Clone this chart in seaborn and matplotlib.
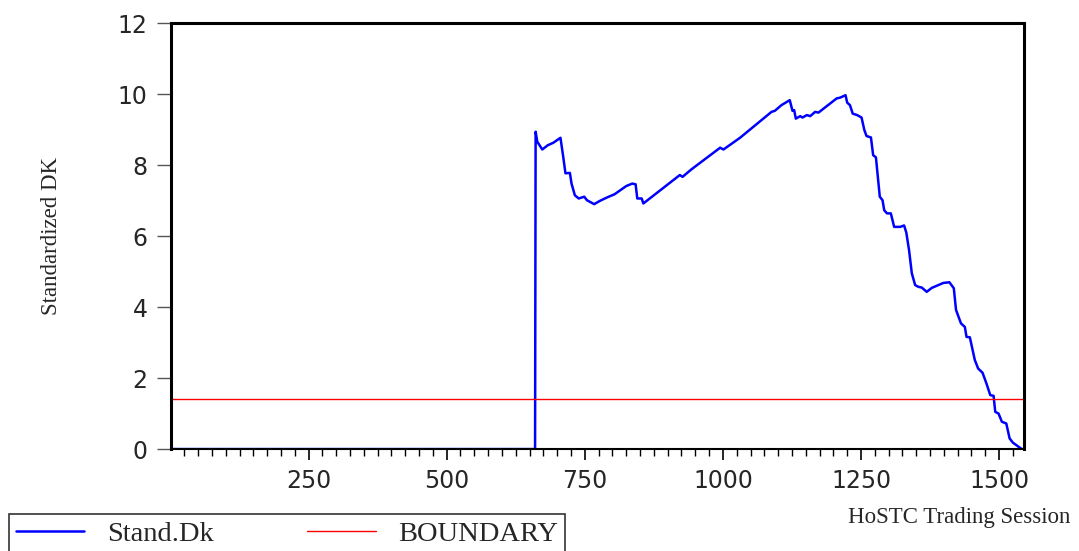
import pandas as pd
import matplotlib.pyplot as plt
import seaborn as sns
from matplotlib.ticker import MultipleLocator, FixedLocator

# trading session index and standardized Dk
session = [1, 660, 661, 664, 673, 683, 693, 706, 711, 715, 723, 726, 732, 739,
           749, 754, 767, 777, 789, 804, 825, 836, 842, 845, 853, 856, 922, 927,
           943, 995, 1001, 1031, 1088, 1094, 1106, 1121, 1126, 1129, 1132, 1140,
           1144, 1152, 1158, 1167, 1173, 1206, 1212, 1222, 1225, 1230, 1235, 1243,
           1251, 1256, 1260, 1268, 1272, 1277, 1284, 1289, 1292, 1297, 1304, 1310,
           1321, 1328, 1332, 1337, 1342, 1348, 1354, 1360, 1369, 1378, 1399, 1410,
           1418, 1422, 1431, 1438, 1441, 1447, 1456, 1462, 1470, 1477, 1484, 1490,
           1493, 1499, 1505, 1513, 1519, 1525, 1541, 1545]
stand_dk = [0.0, 0.0, 8.94, 8.66, 8.44, 8.56, 8.63, 8.77, 8.23, 7.77, 7.78, 7.48,
            7.15, 7.06, 7.11, 7.01, 6.90, 6.99, 7.08, 7.18, 7.41, 7.48, 7.46, 7.06,
            7.06, 6.92, 7.72, 7.67, 7.88, 8.49, 8.44, 8.77, 9.50, 9.53, 9.69, 9.83,
            9.53, 9.55, 9.31, 9.38, 9.34, 9.41, 9.38, 9.50, 9.48, 9.88, 9.90, 9.97,
            9.76, 9.69, 9.45, 9.41, 9.34, 8.99, 8.82, 8.78, 8.28, 8.22, 7.11, 7.01,
            6.73, 6.64, 6.64, 6.26, 6.26, 6.30, 6.10, 5.60, 4.95, 4.62, 4.57, 4.55,
            4.43, 4.54, 4.68, 4.70, 4.53, 3.92, 3.54, 3.44, 3.16, 3.15, 2.51, 2.27,
            2.15, 1.85, 1.52, 1.50, 1.05, 1.00, 0.77, 0.72, 0.30, 0.18, 0.00, 0.00]
boundary = 1.41

df = pd.DataFrame({"session": session, "stand_dk": stand_dk})

sns.set_style("white")
plt.rcParams['font.family'] = ['DejaVu Sans']

fig = plt.figure(figsize=(10.79, 5.51), dpi=100)
ax = fig.add_axes([0.1585, 0.185, 0.7905, 0.773])

sns.lineplot(data=df, x="session", y="stand_dk", color="#0000ff", linewidth=1.8,
             sort=False, ax=ax, label="Stand.Dk", legend=False)
ax.axhline(boundary, color="#ff0000", linewidth=1.0, label="BOUNDARY")

ax.set_xlim(1, 1545)
ax.set_ylim(0, 12)
ax.set_xlabel("")
ax.set_ylabel("Standardized DK", family="Liberation Serif", fontsize=16.5, labelpad=40)

ax.xaxis.set_major_locator(FixedLocator([250, 500, 750, 1000, 1250, 1500]))
ax.xaxis.set_minor_locator(MultipleLocator(25))
ax.yaxis.set_major_locator(MultipleLocator(2))

ax.tick_params(axis="y", which="major", direction="out", length=10, width=1,
               color="#555555", labelsize=17, pad=7, left=True)
ax.tick_params(axis="x", which="major", direction="out", length=8, width=1.2,
               color="black", labelsize=17, pad=6, bottom=True)
ax.tick_params(axis="x", which="minor", direction="out", length=5, width=1,
               color="black", bottom=True)

for side in ["left", "top", "right"]:
    ax.spines[side].set_linewidth(2.2)
    ax.spines[side].set_color("black")
ax.spines["bottom"].set_linewidth(1.5)
ax.spines["bottom"].set_color("black")

fig.text(0.992, 0.060, "HoSTC Trading Session", ha="right", va="center",
         family="Liberation Serif", fontsize=16.5)

handles, labels = ax.get_legend_handles_labels()
leg = fig.legend(handles, labels, ncol=2, loc="upper left", mode="expand",
                 bbox_to_anchor=(0.008, 0.0, 0.516, 0.0672), frameon=True,
                 fancybox=False, prop={"family": "Liberation Serif", "size": 20.5},
                 handlelength=2.4, handletextpad=0.8, columnspacing=1.2,
                 borderpad=0.25, borderaxespad=0.0)
leg.get_frame().set_edgecolor("black")
leg.get_frame().set_linewidth(1.2)

fig.savefig("out.png", dpi=100)
